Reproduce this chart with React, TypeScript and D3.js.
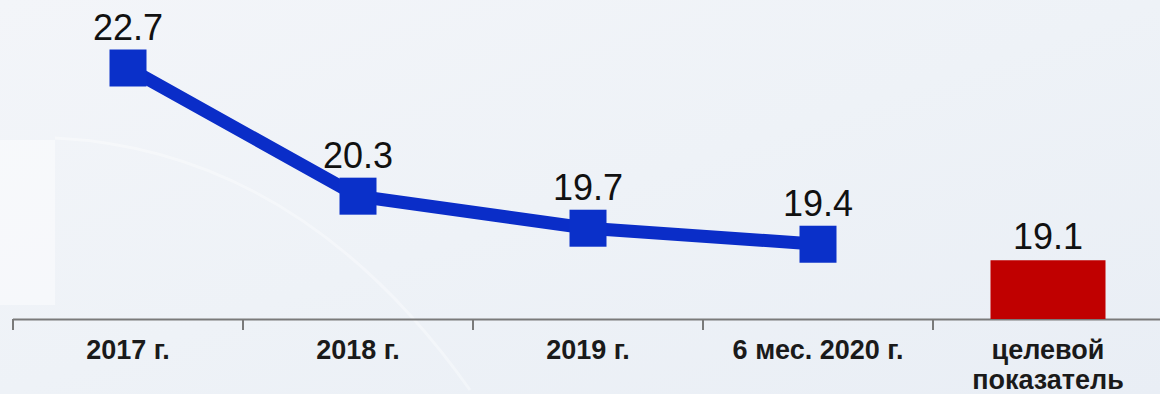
import React from 'react';
import * as d3 from 'd3';

const categories = ['2017 г.', '2018 г.', '2019 г.', '6 мес. 2020 г.', 'целевой\nпоказатель'];
const lineValues = [22.7, 20.3, 19.7, 19.4];
const targetValue = 19.1;

const W = 1160;
const H = 394;

export default function App() {
  const x = d3.scaleBand<string>().domain(categories).range([13, 1163]).padding(0);
  const y = d3.scaleLinear().domain([18, 22.7]).range([319, 68]);
  const cx = (i: number) => (x(categories[i]) ?? 0) + x.bandwidth() / 2;

  const pts = lineValues.map((v, i) => [cx(i), y(v)] as [number, number]);
  const line = d3.line();
  const marker = 37;
  const barW = x.bandwidth() * 0.5;
  const lastIdx = categories.length - 1;
  const ticks = [...categories.map(c => x(c) ?? 0), 1163];

  return (
    <svg width={W} height={H} style={{ position: 'absolute', left: 0, top: 0 }} fontFamily="'Liberation Sans', Arial, sans-serif">
      <defs>
        <linearGradient id="bg" x1="0" y1="0" x2="1" y2="1">
          <stop offset="0" stopColor="#f3f5f9" />
          <stop offset="0.5" stopColor="#eef2f7" />
          <stop offset="1" stopColor="#e9eef5" />
        </linearGradient>
      </defs>
      <rect width={W} height={H} fill="url(#bg)" />
      <path d="M55,138 Q300,150 470,390" fill="none" stroke="#ffffff" strokeOpacity={0.35} strokeWidth={3} />
      <rect x={0} y={140} width={55} height={165} fill="#ffffff" opacity={0.45} />

      {/* axis */}
      <line x1={13} x2={W} y1={319.5} y2={319.5} stroke="#7a7a7a" strokeWidth={2} />
      {ticks.map((t, i) => (
        <line key={i} x1={t} x2={t} y1={319} y2={330} stroke="#7a7a7a" strokeWidth={2} />
      ))}

      {/* target bar */}
      <rect x={cx(lastIdx) - barW / 2} y={y(targetValue)} width={barW} height={y(18) - y(targetValue)} fill="#c00000" />
      <text x={cx(lastIdx)} y={y(targetValue) - 11} textAnchor="middle" fontSize={36} fill="#111">
        {targetValue.toFixed(1)}
      </text>

      {/* line series */}
      <path d={line(pts) ?? ''} fill="none" stroke="#0a2dc8" strokeWidth={13} strokeLinejoin="miter" />
      {pts.map(([px, py], i) => (
        <g key={i}>
          <rect x={px - marker / 2} y={py - marker / 2} width={marker} height={marker} fill="#0a30c9" />
          <text x={px} y={py - marker / 2 - 10} textAnchor="middle" fontSize={36} fill="#111">
            {lineValues[i].toFixed(1)}
          </text>
        </g>
      ))}

      {/* category labels */}
      {categories.map((c, i) => (
        <text key={c} x={cx(i)} y={359} textAnchor="middle" fontSize={27} fontWeight="bold" fill="#1a1a1a">
          {c.split('\n').map((s, j) => (
            <tspan key={j} x={cx(i)} dy={j === 0 ? 0 : 30}>{s}</tspan>
          ))}
        </text>
      ))}
    </svg>
  );
}
